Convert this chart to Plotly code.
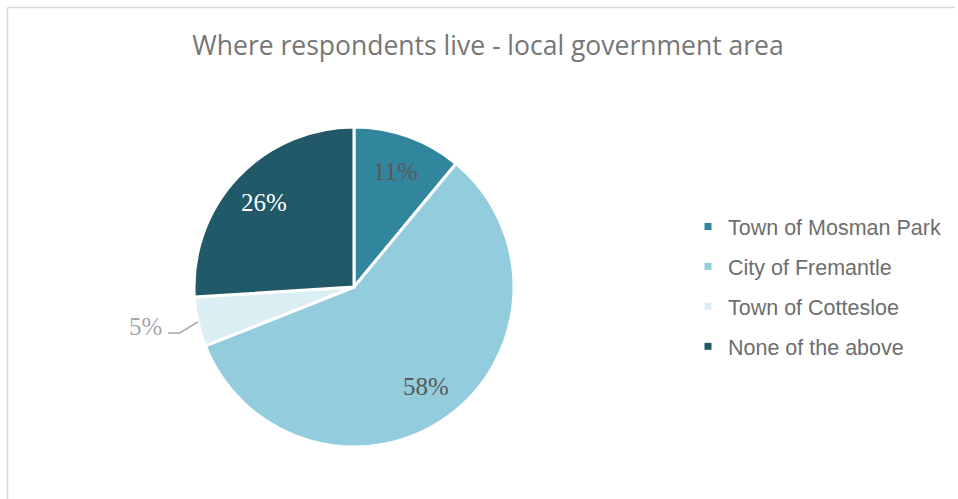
import math
import plotly.graph_objects as go

# Survey share by local government area (percent of respondents)
areas = ["Town of Mosman Park", "City of Fremantle", "Town of Cottesloe", "None of the above"]
shares = [11, 58, 5, 26]
colors = ["#31859c", "#93cddd", "#dbeef4", "#215968"]
label_colors = ["#595959", "#595959", "#a6a6a6", "#ffffff"]
title_text = "Where respondents live - local government area"

W, H = 958, 499
# pie geometry in pixels
CX, CY, R = 354, 287, 160
LABEL_RADIUS = 0.77 * R


def px(x):
    return x / W


def py(y):
    return 1 - y / H


# the small slice gets its label outside with a leader line
outside = [s < 8 for s in shares]

fig = go.Figure()
fig.add_trace(go.Pie(
    labels=areas,
    values=shares,
    sort=False,
    direction="clockwise",
    rotation=0,
    marker=dict(colors=colors, line=dict(color="#ffffff", width=3)),
    textposition="none",
    domain=dict(x=[px(CX - R), px(CX + R)], y=[py(CY + R), py(CY - R)]),
    showlegend=False,
    hoverinfo="label+percent",
))

# legend entries as square markers
for name, col in zip(areas, colors):
    fig.add_trace(go.Scatter(
        x=[None], y=[None], mode="markers", name=name, legendgroup=name,
        marker=dict(symbol="square", size=7, color=col),
    ))

shapes = [
    # chart frame (left and top edges)
    dict(type="line", xref="paper", yref="paper", x0=px(7.5), x1=px(7.5), y0=py(499), y1=py(7.5),
         line=dict(color="#d9d9d9", width=1.5)),
    dict(type="line", xref="paper", yref="paper", x0=px(7.5), x1=px(955), y0=py(7.5), y1=py(7.5),
         line=dict(color="#d9d9d9", width=1.5)),
]
annotations = []

label_font = dict(family="Liberation Serif", size=25)
total = sum(shares)
cum = 0
for val, o, tc in zip(shares, outside, label_colors):
    mid = (cum + val / 2) / total * 2 * math.pi
    cum += val
    if o:
        # leader line from the slice edge, then the label to its left
        ex = CX + R * math.sin(mid)
        ey = CY - R * math.cos(mid)
        elx, ely = ex - 18, ey + 11
        enx = elx - 12
        shapes.append(dict(
            type="path", xref="paper", yref="paper",
            path=f"M {px(ex)},{py(ey)} L {px(elx)},{py(ely)} L {px(enx)},{py(ely)}",
            line=dict(color="#a6a6a6", width=1.5),
        ))
        annotations.append(dict(
            text=f"{val}%", x=px(enx - 4), y=py(ely - 6), xref="paper", yref="paper",
            xanchor="right", yanchor="middle", showarrow=False,
            font=dict(**label_font, color=tc),
        ))
    else:
        lx = CX + LABEL_RADIUS * math.sin(mid)
        ly = CY - LABEL_RADIUS * math.cos(mid)
        annotations.append(dict(
            text=f"{val}%", x=px(lx), y=py(ly), xref="paper", yref="paper",
            xanchor="center", yanchor="middle", showarrow=False,
            font=dict(**label_font, color=tc),
        ))

fig.update_layout(
    width=W, height=H,
    margin=dict(l=0, r=0, t=0, b=0),
    paper_bgcolor="#ffffff",
    plot_bgcolor="#ffffff",
    title=dict(text=title_text, x=px(488), y=py(46), xanchor="center", yanchor="middle",
               xref="paper", yref="paper",
               font=dict(family="Open Sans", size=26.5, color="#767676")),
    xaxis=dict(visible=False),
    yaxis=dict(visible=False),
    legend=dict(x=px(688), y=py(206), xanchor="left", yanchor="top",
                font=dict(family="Liberation Sans", size=21.5, color="#6e6e6e"),
                tracegroupgap=9, bgcolor="rgba(0,0,0,0)"),
    shapes=shapes,
    annotations=annotations,
)

fig.write_html("out.html")
